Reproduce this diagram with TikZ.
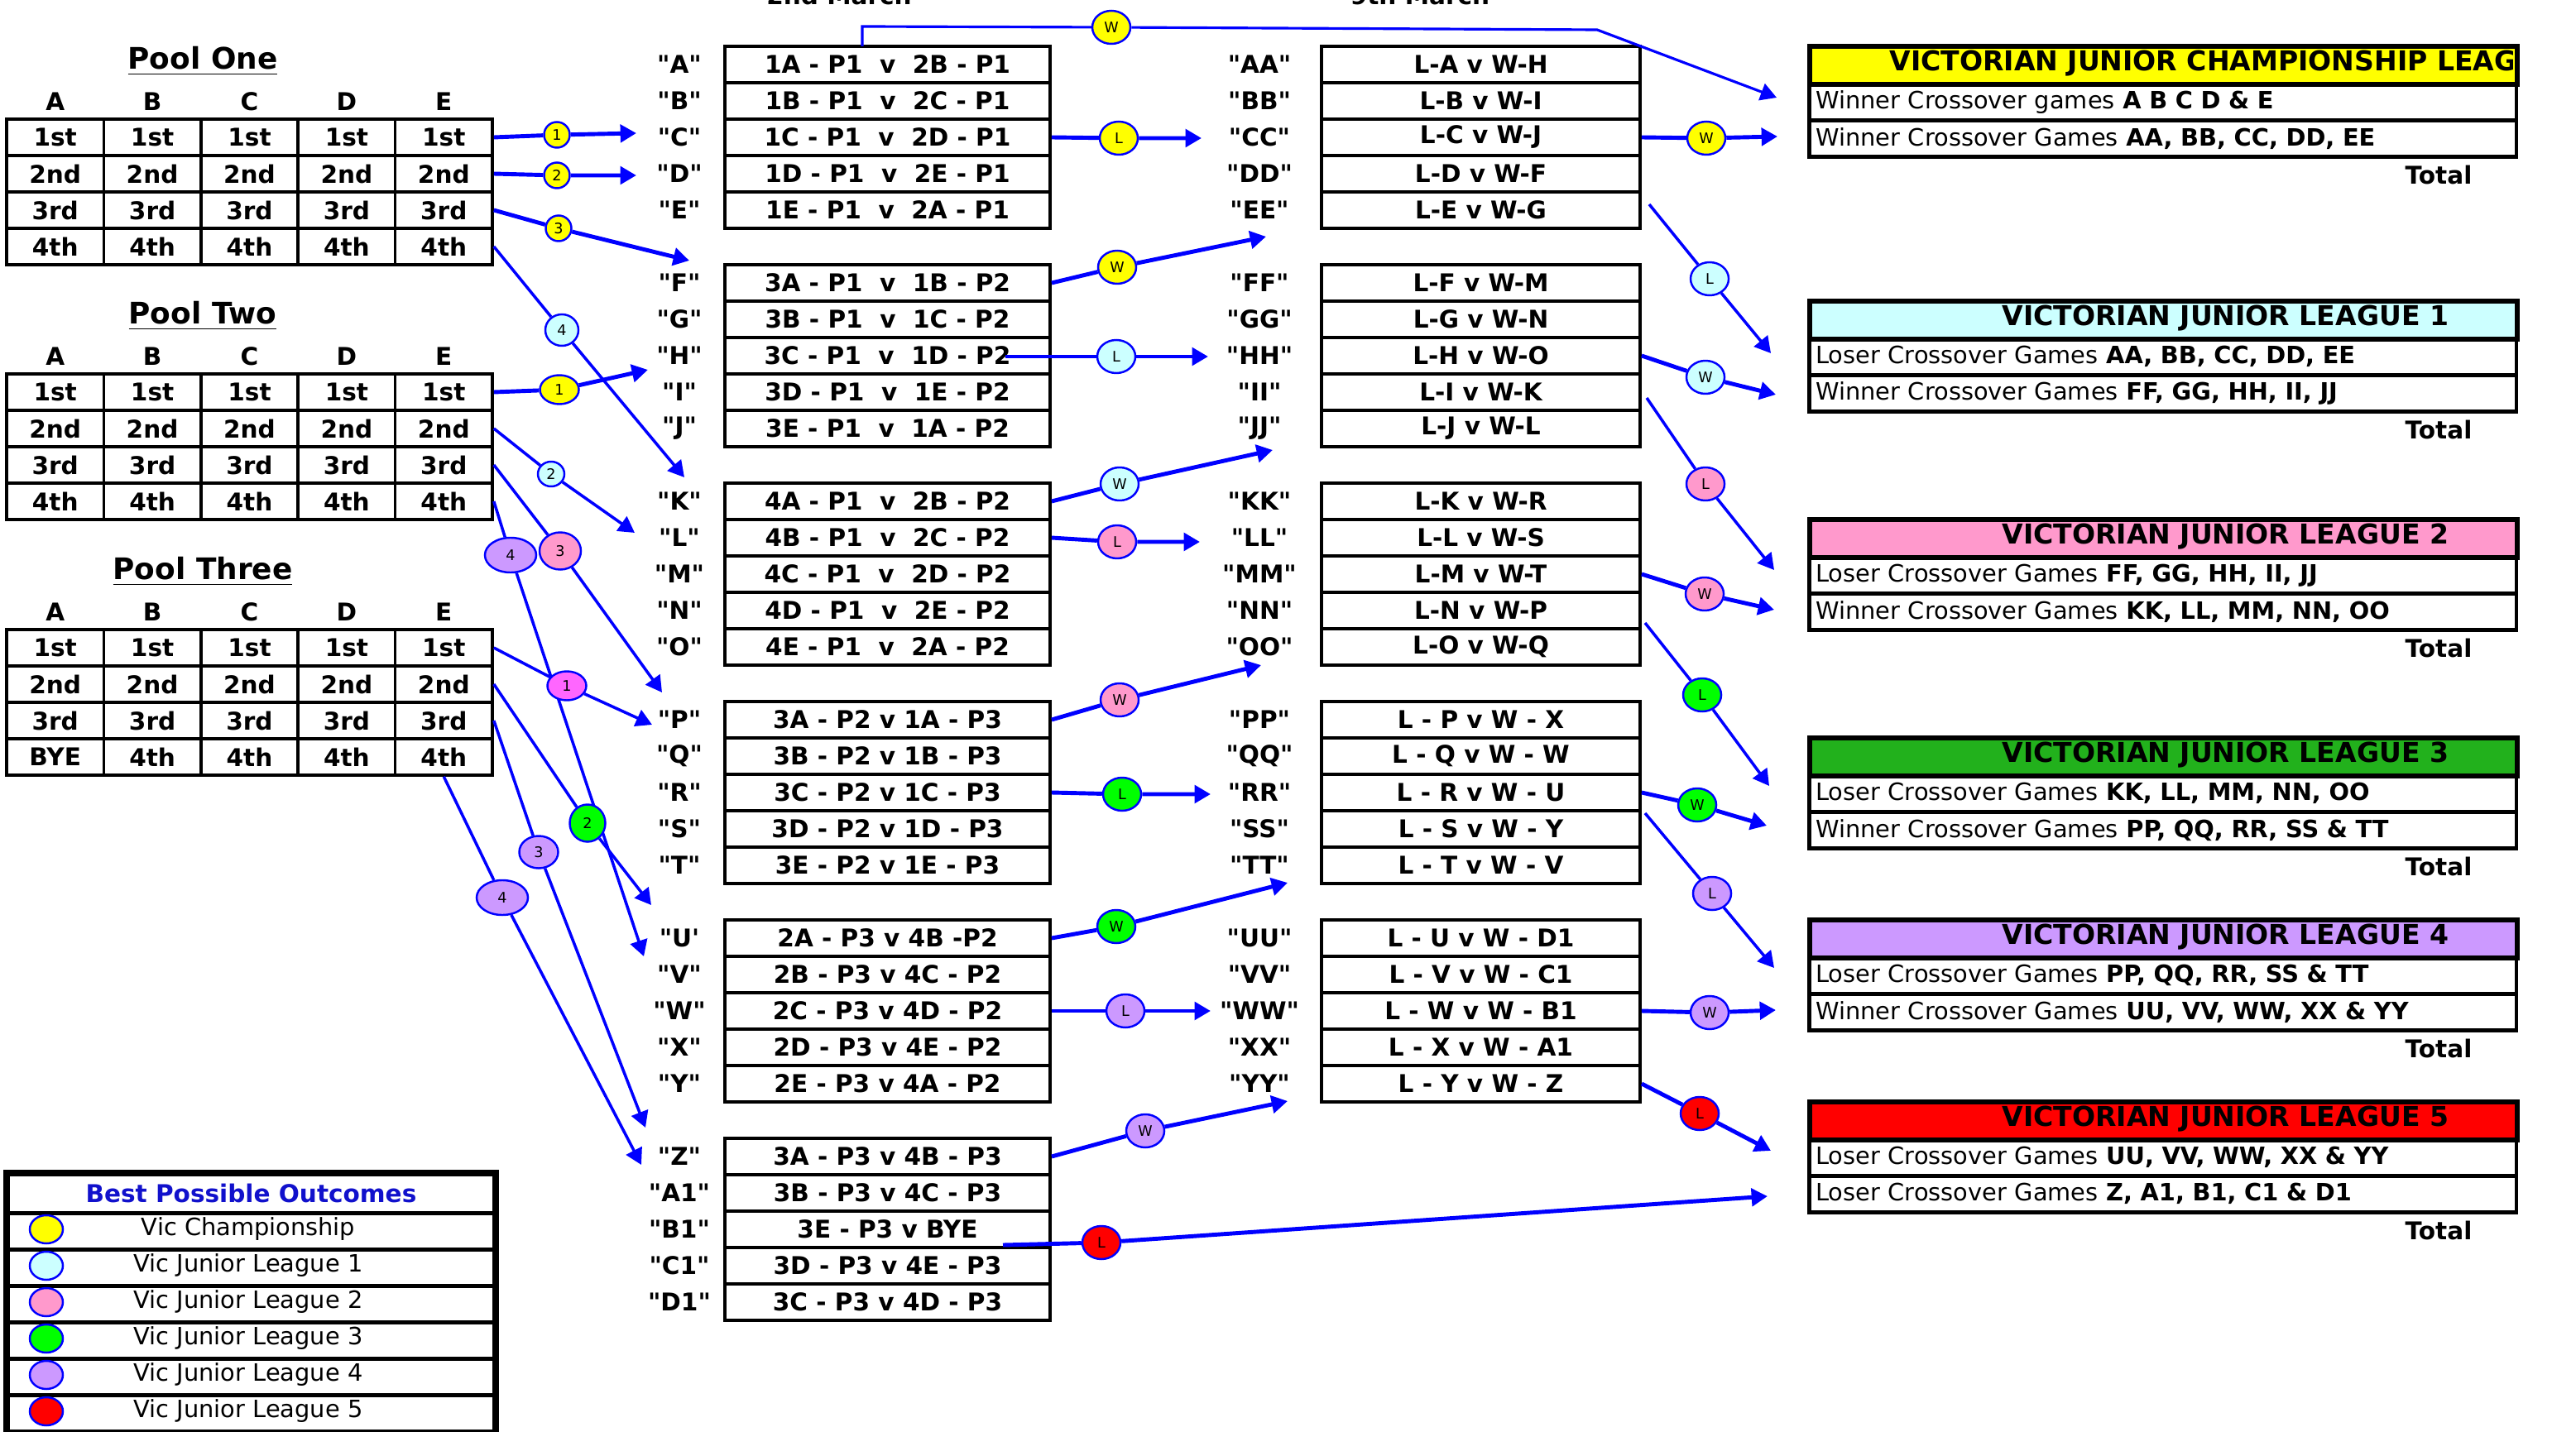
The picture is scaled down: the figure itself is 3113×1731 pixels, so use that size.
\documentclass[tikz,border=0pt]{standalone}
\usepackage{fontspec}
\setmainfont{DejaVu Sans}
\usetikzlibrary{shapes.geometric,arrows.meta,positioning}

\definecolor{vyellow}{RGB}{255,255,0}
\definecolor{vcyan}{RGB}{204,255,255}
\definecolor{vpink}{RGB}{255,153,204}
\definecolor{vmagenta}{RGB}{255,102,255}
\definecolor{vgreen}{RGB}{0,255,0}
\definecolor{vdkgreen}{RGB}{34,177,28}
\definecolor{vlav}{RGB}{204,153,255}
\definecolor{vred}{RGB}{255,0,0}
\definecolor{vblue}{RGB}{0,0,255}
\definecolor{vnavy}{RGB}{17,17,204}

\newcommand{\cellfnt}{\fontsize{8.4}{10}\selectfont\bfseries}
\newcommand{\titlefnt}{\fontsize{10.2}{12}\selectfont\bfseries}
\newcommand{\rowfnt}{\fontsize{8.2}{10}\selectfont}
\newcommand{\headfnt}{\fontsize{9.4}{10}\selectfont\bfseries}
\newcommand{\ovfnt}{\fontsize{5}{6}\selectfont}
\newcommand{\qt}[1]{\textquotedbl#1\textquotedbl}

\tikzset{
  cell/.style={draw, line width=1pt, minimum width=1.174cm, minimum height=0.44cm, inner sep=0pt, font=\cellfnt},
  tag/.style={font=\cellfnt, inner sep=1pt},
  game/.style={cell, minimum width=3.93cm},
  cross/.style={cell, minimum width=3.85cm},
  oval/.style={ellipse, draw=vblue, line width=0.7pt, inner sep=0pt, minimum width=0.46cm, minimum height=0.40cm, font=\ovfnt},
  soval/.style={oval, minimum width=0.31cm, minimum height=0.31cm},
  link/.style={draw=vblue, line width=1.4pt, -{Triangle[length=5.5pt,width=6pt]}},
  thinlink/.style={link, line width=1pt},
  lghead/.style={draw, line width=1.7pt, minimum width=8.54cm, minimum height=0.46cm, anchor=north west, inner sep=0pt},
  lgrow/.style={draw, line width=1.3pt, minimum height=0.44cm, text width=8.38cm, inner xsep=0.08cm, inner ysep=0pt, align=left, anchor=north west, font=\rowfnt},
  keyrow/.style={draw, line width=1.3pt, minimum width=5.88cm, minimum height=0.44cm, anchor=north west, inner sep=0pt},
}

\begin{document}
\begin{tikzpicture}[x=0.01cm, y=-0.01cm]
\useasboundingbox (0,0) rectangle (3113,1731);

% dates
\node[tag, anchor=base] (date1) at (1014,6) {2nd March};
\node[tag, anchor=base] (date2) at (1716,6) {9th March};

% pool tables
\foreach \pn/\ty/\title in {1/144/One, 2/452/Two, 3/761/Three}{
  \node[font=\titlefnt] (pool\pn) at (245,\ty-70) {\underline{Pool \title}};
  \foreach \lt [count=\ci] in {A,B,C,D,E}
    \node[tag] (h\pn\lt) at (117.4*\ci-50.7, \ty-21) {\lt};
  \foreach \rk [count=\ri] in {1st,2nd,3rd,4th}
    \foreach \ci in {1,...,5}{
      \ifnum\pn\ri\ci=341 \def\txt{BYE}\else\def\txt{\rk}\fi
      \node[cell] (p\pn-\ri-\ci) at (117.4*\ci-50.7, \ty+44*\ri-22) {\txt};
    }
}

% 2nd March games
\foreach \nm/\lab/\tx [count=\kk] in {
  A/\qt{A}/1A - P1\ \ v\ \ 2B - P1, B/\qt{B}/1B - P1\ \ v\ \ 2C - P1, C/\qt{C}/1C - P1\ \ v\ \ 2D - P1,
  D/\qt{D}/1D - P1\ \ v\ \ 2E - P1, E/\qt{E}/1E - P1\ \ v\ \ 2A - P1,
  F/\qt{F}/3A - P1\ \ v\ \ 1B - P2, G/\qt{G}/3B - P1\ \ v\ \ 1C - P2, H/\qt{H}/3C - P1\ \ v\ \ 1D - P2,
  I/\qt{I}/3D - P1\ \ v\ \ 1E - P2, J/\qt{J}/3E - P1\ \ v\ \ 1A - P2,
  K/\qt{K}/4A - P1\ \ v\ \ 2B - P2, L/\qt{L}/4B - P1\ \ v\ \ 2C - P2, M/\qt{M}/4C - P1\ \ v\ \ 2D - P2,
  N/\qt{N}/4D - P1\ \ v\ \ 2E - P2, O/\qt{O}/4E - P1\ \ v\ \ 2A - P2,
  P/\qt{P}/3A - P2 v 1A - P3, Q/\qt{Q}/3B - P2 v 1B - P3, R/\qt{R}/3C - P2 v 1C - P3,
  S/\qt{S}/3D - P2 v 1D - P3, T/\qt{T}/3E - P2 v 1E - P3,
  U/\textquotedbl U\textquotesingle/2A - P3 v 4B -P2, V/\qt{V}/2B - P3 v 4C - P2, W/\qt{W}/2C - P3 v 4D - P2,
  X/\qt{X}/2D - P3 v 4E - P2, Y/\qt{Y}/2E - P3 v 4A - P2,
  Z/\qt{Z}/3A - P3 v 4B - P3, A1/\qt{A1}/3B - P3 v 4C - P3, B1/\qt{B1}/3E - P3 v BYE,
  C1/\qt{C1}/3D - P3 v 4E - P3, D1/\qt{D1}/3C - P3 v 4D - P3}{
  \node[game] (g\nm) at (1072.5,{78+264*int((\kk-1)/5)+44*mod(\kk-1,5)}) {\tx};
  \node[tag] (q\nm) at (821,{78+264*int((\kk-1)/5)+44*mod(\kk-1,5)}) {\lab};
}

% 9th March games
\foreach \nm/\tx [count=\kk] in {
  AA/L-A v W-H, BB/L-B v W-I, CC/L-C v W-J, DD/L-D v W-F, EE/L-E v W-G,
  FF/L-F v W-M, GG/L-G v W-N, HH/L-H v W-O, II/L-I v W-K, JJ/L-J v W-L,
  KK/L-K v W-R, LL/L-L v W-S, MM/L-M v W-T, NN/L-N v W-P, OO/L-O v W-Q,
  PP/L - P v W - X, QQ/L - Q v W - W, RR/L - R v W - U, SS/L - S v W - Y, TT/L - T v W - V,
  UU/L - U v W - D1, VV/L - V v W - C1, WW/L - W v W - B1, XX/L - X v W - A1, YY/L - Y v W - Z}{
  \node[cross] (c\nm) at (1789.5,{78+264*int((\kk-1)/5)+44*mod(\kk-1,5)}) {\tx};
  \node[tag] (q\nm) at (1522,{78+264*int((\kk-1)/5)+44*mod(\kk-1,5)}) {\qt{\nm}};
}

% championship
\node[lghead, fill=vyellow] (vh0) at (2184,53) {};
\begin{scope}
  \clip (2184,40) rectangle (3036,110);
  \node[font=\headfnt, anchor=west] (vt0) at (2271,77) {VICTORIAN JUNIOR CHAMPIONSHIP LEAGUE};
\end{scope}
\node[lgrow] (va0) at (2184,99) {Winner Crossover games \textbf{A B C D \& E}};
\node[lgrow] (vb0) at (2184,143) {Winner Crossover Games \textbf{AA, BB, CC, DD, EE}};
\node[tag] (vtot0) at (2947,211) {Total};

% leagues
\foreach \nm/\ty/\col/\ra/\rb in {
  1/361/vcyan/{Loser Crossover Games \textbf{AA, BB, CC, DD, EE}}/{Winner Crossover Games \textbf{FF, GG, HH, II, JJ}},
  2/625/vpink/{Loser Crossover Games \textbf{FF, GG, HH, II, JJ}}/{Winner Crossover Games \textbf{KK, LL, MM, NN, OO}},
  3/889/vdkgreen/{Loser Crossover Games \textbf{KK, LL, MM, NN, OO}}/{Winner Crossover Games \textbf{PP, QQ, RR, SS \& TT}},
  4/1109/vlav/{Loser Crossover Games \textbf{PP, QQ, RR, SS \& TT}}/{Winner Crossover Games \textbf{UU, VV, WW, XX \& YY}},
  5/1329/vred/{Loser Crossover Games \textbf{UU, VV, WW, XX \& YY}}/{Loser Crossover Games \textbf{Z, A1, B1, C1 \& D1}}}{
  \node[lghead, fill=\col] (vh\nm) at (2184,\ty) {};
  \node[font=\headfnt, anchor=west] (vt\nm) at (2407,\ty+24) {VICTORIAN JUNIOR LEAGUE \nm};
  \node[lgrow] (va\nm) at (2184,\ty+46) {\ra};
  \node[lgrow] (vb\nm) at (2184,\ty+90) {\rb};
  \node[tag] (vtot\nm) at (2947,\ty+158) {Total};
}

% legend
\node[keyrow, minimum height=0.47cm, font=\cellfnt, text=vnavy] (keyt) at (7,1417) {Best Possible Outcomes};
\foreach \col/\tx [count=\kk] in {vyellow/Vic Championship, vcyan/Vic Junior League 1,
  vpink/Vic Junior League 2, vgreen/Vic Junior League 3, vlav/Vic Junior League 4, vred/Vic Junior League 5}{
  \node[keyrow] (key\kk) at (7,{1420+44*\kk}) {};
  \node[oval, fill=\col, minimum width=0.40cm, minimum height=0.34cm] (keyo\kk) at (56,{1442+44*\kk}) {};
  \node[font=\rowfnt] (keyx\kk) at (300,{1442+44*\kk}) {\tx};
}
\draw[line width=1.8pt] (keyt.north west) rectangle (key6.south east);

% pool one to games
\node[soval, fill=vyellow] (a1) at (673,163) {1};
\node[soval, fill=vyellow] (a2) at (673,212) {2};
\node[soval, fill=vyellow] (a3) at (675,276) {3};
\node[oval, fill=vcyan, minimum width=0.40cm, minimum height=0.38cm] (a4) at (679,399) {4};
\coordinate (ta1) at (769,161);
\coordinate (ta2) at (769,212);
\coordinate (ta3) at (833,315);
\coordinate (ta4) at (827,577);
\draw[link] (p1-1-5.east) -- (a1) -- (ta1);
\draw[link] (p1-2-5.east) -- (a2) -- (ta2);
\draw[link] (p1-3-5.east) -- (a3) -- (ta3);
\draw[thinlink] (p1-4-5.east) -- (a4) -- (ta4);

% pool two to games
\node[oval, fill=vyellow, minimum width=0.47cm, minimum height=0.35cm] (b1) at (676,471) {1};
\node[oval, fill=vcyan, minimum width=0.32cm, minimum height=0.30cm] (b2) at (666,573) {2};
\node[oval, fill=vpink, minimum width=0.50cm, minimum height=0.45cm] (b3) at (677,666) {3};
\node[oval, fill=vlav, minimum width=0.62cm, minimum height=0.42cm] (b4) at (617,671) {4};
\coordinate (tb1) at (783,447);
\coordinate (tb2) at (767,644);
\coordinate (tb3) at (800,837);
\coordinate (tb4) at (778,1156);
\draw[link] (p2-1-5.east) -- (b1) -- (tb1);
\draw[thinlink] (p2-2-5.east) -- (b2) -- (tb2);
\draw[thinlink] (p2-3-5.east) -- (b3) -- (tb3);
\draw[thinlink] (p2-4-5.east) -- (b4) -- (tb4);

% pool three to games
\node[oval, fill=vmagenta, minimum width=0.47cm, minimum height=0.35cm] (c1) at (685,829) {1};
\node[oval, fill=vgreen, minimum width=0.43cm, minimum height=0.45cm] (c2) at (710,995) {2};
\node[oval, fill=vlav, minimum width=0.47cm, minimum height=0.39cm] (c3) at (651,1030) {3};
\node[oval, fill=vlav, minimum width=0.62cm, minimum height=0.42cm] (c4) at (607,1085) {4};
\coordinate (tc1) at (788,876);
\coordinate (tc2) at (787,1094);
\coordinate (tc3) at (780,1363);
\coordinate (tc4) at (775,1408);
\draw[thinlink] (p3-1-5.east) -- (c1) -- (tc1);
\draw[thinlink] (p3-2-5.east) -- (c2) -- (tc2);
\draw[thinlink] (p3-3-5.east) -- (c3) -- (tc3);
\draw[thinlink] (p3-4-5.south) -- (c4) -- (tc4);

% 2nd March results
\node[oval, fill=vyellow] (wA) at (1343,33) {W};
\coordinate (sA) at (1042,56);
\coordinate (kA1) at (1042,32);
\coordinate (kA2) at (1930,36);
\coordinate (tA) at (2147,118);
\draw[thinlink, line width=0.9pt] (sA) -- (kA1) -- (wA) -- (kA2) -- (tA);

\node[oval, fill=vyellow] (lC) at (1352,167) {L};
\node[oval, fill=vyellow] (wF) at (1350,323) {W};
\node[oval, fill=vcyan] (lH) at (1349,431) {L};
\node[oval, fill=vcyan] (wK) at (1353,585) {W};
\node[oval, fill=vpink] (lL) at (1350,655) {L};
\node[oval, fill=vpink] (wP) at (1353,846) {W};
\node[oval, fill=vgreen] (lR) at (1356,960) {L};
\node[oval, fill=vgreen] (wU) at (1349,1120) {W};
\node[oval, fill=vlav] (lW) at (1360,1222) {L};
\node[oval, fill=vlav] (wZ) at (1384,1367) {W};
\node[oval, fill=vred] (lB) at (1331,1502) {L};
\coordinate (sH) at (1215,431);
\coordinate (sB) at (1212,1505);
\coordinate (tC) at (1452,167);
\coordinate (tF) at (1530,286);
\coordinate (tH) at (1460,431);
\coordinate (tK) at (1538,544);
\coordinate (tL) at (1450,655);
\coordinate (tP) at (1524,804);
\coordinate (tR) at (1463,960);
\coordinate (tU) at (1556,1067);
\coordinate (tW) at (1463,1222);
\coordinate (tZ) at (1556,1331);
\coordinate (tB) at (2136,1446);
\draw[link] (gC.east) -- (lC) -- (tC);
\draw[link] (gF.east) -- (wF) -- (tF);
\draw[link] (sH) -- (lH) -- (tH);
\draw[link] (gK.east) -- (wK) -- (tK);
\draw[link] (gL.east) -- (lL) -- (tL);
\draw[link] (gP.east) -- (wP) -- (tP);
\draw[link] (gR.east) -- (lR) -- (tR);
\draw[link] (gU.east) -- (wU) -- (tU);
\draw[link] (gW.east) -- (lW) -- (tW);
\draw[link] (gZ.east) -- (wZ) -- (tZ);
\draw[link] (sB) -- (lB) -- (tB);

% 9th March results
\node[oval, fill=vyellow] (wCC) at (2062,167) {W};
\node[oval, fill=vcyan] (lEE) at (2066,337) {L};
\node[oval, fill=vcyan] (wHH) at (2061,456) {W};
\node[oval, fill=vpink] (lJJ) at (2061,585) {L};
\node[oval, fill=vpink] (wMM) at (2060,718) {W};
\node[oval, fill=vgreen] (lOO) at (2057,840) {L};
\node[oval, fill=vgreen] (wRR) at (2051,973) {W};
\node[oval, fill=vlav] (lTT) at (2069,1080) {L};
\node[oval, fill=vlav] (wWW) at (2066,1224) {W};
\node[oval, fill=vred] (lYY) at (2054,1346) {L};
\coordinate (sEE) at (1993,247);
\coordinate (sJJ) at (1990,481);
\coordinate (sOO) at (1988,753);
\coordinate (sTT) at (1988,983);
\coordinate (tCC) at (2148,165);
\coordinate (tEE) at (2140,427);
\coordinate (tHH) at (2146,477);
\coordinate (tJJ) at (2144,689);
\coordinate (tMM) at (2144,737);
\coordinate (tOO) at (2138,950);
\coordinate (tRR) at (2135,998);
\coordinate (tTT) at (2144,1170);
\coordinate (tWW) at (2146,1221);
\coordinate (tYY) at (2140,1391);
\draw[link] (cCC.east) -- (wCC) -- (tCC);
\draw[thinlink] (sEE) -- (lEE) -- (tEE);
\draw[link] (cHH.east) -- (wHH) -- (tHH);
\draw[thinlink] (sJJ) -- (lJJ) -- (tJJ);
\draw[link] (cMM.east) -- (wMM) -- (tMM);
\draw[thinlink] (sOO) -- (lOO) -- (tOO);
\draw[link] (cRR.east) -- (wRR) -- (tRR);
\draw[thinlink] (sTT) -- (lTT) -- (tTT);
\draw[link] (cWW.east) -- (wWW) -- (tWW);
\draw[link] (cYY.east) -- (lYY) -- (tYY);
\end{tikzpicture}
\end{document}
